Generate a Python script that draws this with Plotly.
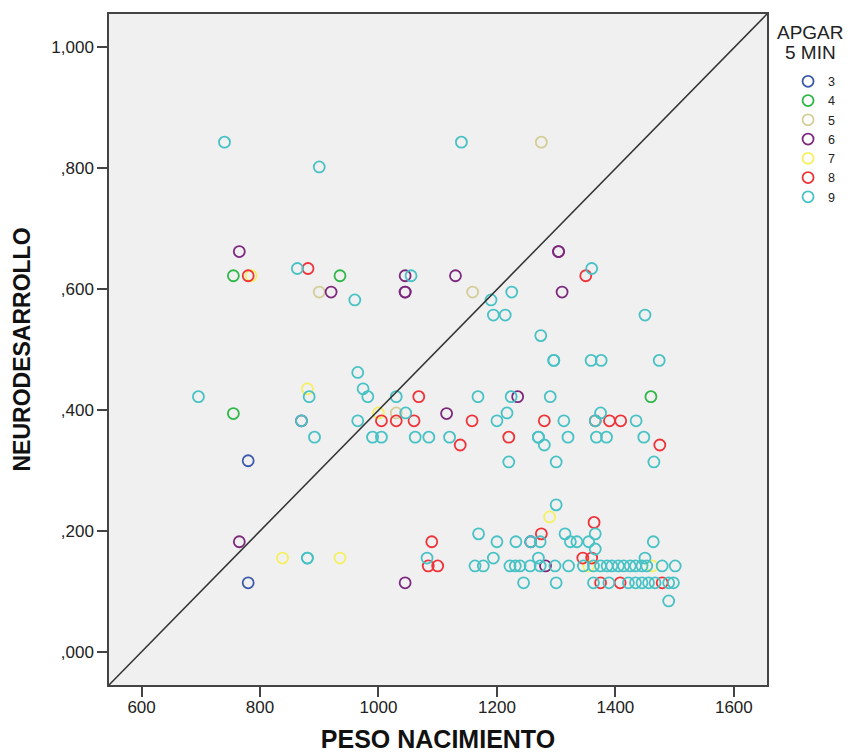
import plotly.graph_objects as go

# ---- data ----
apgar_levels = ["3", "4", "5", "6", "7", "8", "9"]
colors = ["#3E58AC", "#2EB848", "#D3CE97", "#7C287D", "#F5F060", "#EF3338", "#48C2C5"]

apgar3_x = [780, 780]
apgar3_y = [0.316, 0.114]

apgar4_x = [755, 935, 755, 1460]
apgar4_y = [0.622, 0.622, 0.394, 0.422]

apgar5_x = [1275, 900, 1159, 1030]
apgar5_y = [0.843, 0.595, 0.595, 0.395]

apgar6_x = [765, 920, 1045, 1045, 1045, 1130, 1304, 1304, 1310, 1235, 1115,
            765, 1045, 1282, 870, 1257]
apgar6_y = [0.662, 0.595, 0.622, 0.595, 0.595, 0.622, 0.662, 0.662, 0.595, 0.422, 0.394,
            0.182, 0.114, 0.142, 0.382, 0.182]

apgar7_x = [785, 880, 1000, 838, 935, 1289, 1355, 1462]
apgar7_y = [0.622, 0.435, 0.395, 0.155, 0.155, 0.223, 0.142, 0.142]

apgar8_x = [780, 881, 1350, 1005, 1030, 1060, 1068, 1138, 1158, 1280, 1366, 1390, 1409,
            1220, 1475, 1090, 1084, 1100, 1364, 1275, 1345, 1360, 1375, 1408, 1479]
apgar8_y = [0.622, 0.634, 0.622, 0.382, 0.382, 0.382, 0.422, 0.342, 0.382, 0.382, 0.382, 0.382, 0.382,
            0.355, 0.342, 0.182, 0.142, 0.142, 0.214, 0.195, 0.155, 0.155, 0.114, 0.114, 0.114]

apgar9_x = [740, 1140, 900, 863, 1360, 1055, 1225, 960, 1190, 1194, 1214, 1450, 1274,
            1296, 1296, 1359, 1376, 1474, 965, 974,
            696, 883, 982, 1030, 1168, 1224, 1290,
            1046, 1217, 1375,
            965, 1200, 1313, 1366, 1435, 870,
            892, 990, 1005, 1062, 1085, 1120, 1270, 1270, 1320, 1368, 1385, 1448,
            1280, 1220, 1300, 1465, 1300,
            1169, 1315, 1366,
            1200, 1232, 1257, 1273, 1324, 1335, 1355, 1464, 1366,
            880, 880, 1082, 1194, 1270, 1450,
            1163, 1177, 1222, 1231, 1239, 1256, 1273, 1298, 1321, 1346, 1363, 1375, 1386,
            1394, 1405, 1414, 1425, 1434, 1445, 1453, 1479, 1501,
            1245, 1300, 1363, 1389, 1422, 1434, 1445, 1456, 1467, 1490, 1498,
            1490]
apgar9_y = [0.843, 0.843, 0.802, 0.634, 0.634, 0.622, 0.595, 0.582, 0.582, 0.557, 0.557, 0.557, 0.523,
            0.482, 0.482, 0.482, 0.482, 0.482, 0.462, 0.435,
            0.422, 0.422, 0.422, 0.422, 0.422, 0.422, 0.422,
            0.395, 0.395, 0.395,
            0.382, 0.382, 0.382, 0.382, 0.382, 0.382,
            0.355, 0.355, 0.355, 0.355, 0.355, 0.355, 0.355, 0.355, 0.355, 0.355, 0.355, 0.355,
            0.342, 0.314, 0.314, 0.314, 0.243,
            0.195, 0.195, 0.195,
            0.182, 0.182, 0.182, 0.182, 0.182, 0.182, 0.182, 0.182, 0.170,
            0.155, 0.155, 0.155, 0.155, 0.155, 0.155,
            0.142, 0.142, 0.142, 0.142, 0.142, 0.142, 0.142, 0.142, 0.142, 0.142, 0.142, 0.142, 0.142,
            0.142, 0.142, 0.142, 0.142, 0.142, 0.142, 0.142, 0.142, 0.142,
            0.114, 0.114, 0.114, 0.114, 0.114, 0.114, 0.114, 0.114, 0.114, 0.114, 0.114,
            0.084]

x_tickvals = [600, 800, 1000, 1200, 1400, 1600]
x_ticktext = ["600", "800", "1000", "1200", "1400", "1600"]
y_tickvals = [0.0, 0.2, 0.4, 0.6, 0.8, 1.0]
y_ticktext = [",000", ",200", ",400", ",600", ",800", "1,000"]

series_x = [apgar3_x, apgar4_x, apgar5_x, apgar6_x, apgar7_x, apgar8_x, apgar9_x]
series_y = [apgar3_y, apgar4_y, apgar5_y, apgar6_y, apgar7_y, apgar8_y, apgar9_y]

FONT = "Liberation Sans, Arial, sans-serif"

fig = go.Figure()
for name, col, xs, ys in zip(apgar_levels, colors, series_x, series_y):
    fig.add_trace(go.Scatter(
        x=xs, y=ys, mode="markers", name=name,
        marker=dict(symbol="circle-open", size=11, color=col, line=dict(width=1.8, color=col)),
    ))

# reference diagonal across the plot area
fig.add_shape(type="line", xref="x domain", yref="y domain", x0=0, y0=0, x1=1, y1=1,
              line=dict(color="#333333", width=1.5))

axis_common = dict(
    showgrid=False, zeroline=False, showline=True, linecolor="#444444", linewidth=1.5,
    mirror=True, ticks="outside", ticklen=10, tickwidth=1.5, tickcolor="#444444",
    tickfont=dict(family=FONT, size=17, color="#222222"),
)

fig.update_xaxes(range=[545, 1656], tickvals=x_tickvals, ticktext=x_ticktext,
                 title=dict(text="<b>PESO NACIMIENTO</b>", font=dict(family=FONT, size=25, color="#111111"),
                            standoff=16),
                 automargin=False, **axis_common)
fig.update_yaxes(range=[-0.055, 1.055], tickvals=y_tickvals, ticktext=y_ticktext,
                 title=dict(text="<b>NEURODESARROLLO</b>", font=dict(family=FONT, size=23, color="#111111"),
                            standoff=14),
                 automargin=False, **axis_common)
try:
    fig.update_xaxes(ticklabelstandoff=-4)
except Exception:
    pass

# legend title (two centred lines)
fig.add_annotation(text="APGAR", xref="paper", yref="paper", x=1.066, y=0.9717,
                   xanchor="center", yanchor="middle", showarrow=False,
                   font=dict(family=FONT, size=19, color="#222222"))
fig.add_annotation(text="5 MIN", xref="paper", yref="paper", x=1.066, y=0.9419,
                   xanchor="center", yanchor="middle", showarrow=False,
                   font=dict(family=FONT, size=19, color="#222222"))

fig.update_layout(
    width=849, height=745,
    margin=dict(l=101, r=90, t=6, b=68),
    plot_bgcolor="#F0F0F0", paper_bgcolor="white",
    font=dict(family=FONT, color="#222222"),
    legend=dict(
        x=1.032, xanchor="left", y=0.9215, yanchor="top",
        font=dict(family=FONT, size=12.5, color="#222222"),
        bgcolor="rgba(0,0,0,0)", itemwidth=30, tracegroupgap=0,
    ),
    showlegend=True,
)

fig.write_html("out.html")
